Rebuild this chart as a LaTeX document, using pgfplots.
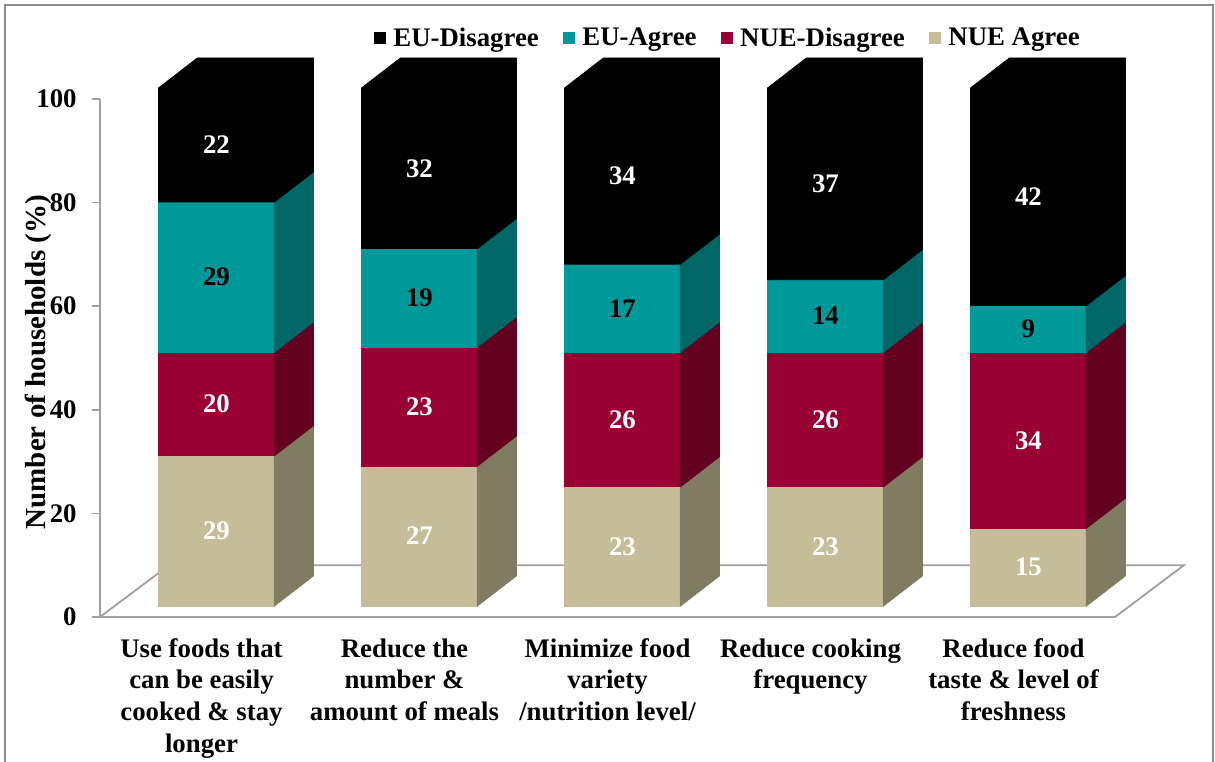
\documentclass[border=0pt]{standalone}
\usepackage{pgfplots}
\pgfplotsset{compat=1.18}
\usepackage{pgfplotstable}
\usepackage{fontspec}
\setmainfont{Liberation Serif}

\definecolor{eud}{HTML}{000000}
\definecolor{eua}{HTML}{009999}
\definecolor{euaS}{HTML}{006666}
\definecolor{nued}{HTML}{990033}
\definecolor{nuedS}{HTML}{640020}
\definecolor{nuea}{HTML}{C4BD97}
\definecolor{nueaS}{HTML}{807C61}
\definecolor{axgray}{HTML}{A0A0A0}
\definecolor{framegray}{HTML}{8C8C8C}

% NUE Agree (na), NUE-Disagree (nd), EU-Agree (ea), EU-Disagree (ed)
\pgfplotstableread{
x na nd ea ed
0 29 20 29 22
1 27 23 19 32
2 23 26 17 34
3 23 26 14 37
4 15 34 9 42
}\datatable

% 3-D geometry in axis units
\def\fx{-0.212}
\def\bw{0.571}
\def\ddx{0.192}
\def\ddy{5.8}
\def\fy{2.12}

\newcommand\seg[5]{%
  \pgfmathsetmacro\ylo{#1}%
  \pgfmathsetmacro\yhi{min(#1+#2,\fy+100)}%
  \pgfmathsetmacro\ylob{\ylo+\ddy}%
  \pgfmathsetmacro\yhib{\yhi+\ddy}%
  \pgfmathsetmacro\ymid{(\ylo+\yhi)/2}%
  \edef\temp{%
    \noexpand\addplot[forget plot, fill=#3, draw=#3, line width=0.4pt, line join=round] coordinates {(\xl,\ylo) (\xr,\ylo) (\xr,\yhi) (\xl,\yhi) (\xl,\ylo)};
    \noexpand\addplot[forget plot, fill=#4, draw=#4, line width=0.4pt, line join=round] coordinates {(\xr,\ylo) (\xbr,\ylob) (\xbr,\yhib) (\xr,\yhi) (\xr,\ylo)};
    \noexpand\node[lab, text=#5] at (axis cs:\xc,\ymid) {#2};
  }\temp
  \xdef\ytop{\yhi}%
}
% top (black) segment: front, top and side faces as one solid block
\newcommand\segtop[4]{%
  \pgfmathsetmacro\ylo{#1}%
  \pgfmathsetmacro\yhi{min(#1+#2,\fy+100)}%
  \pgfmathsetmacro\ylob{\ylo+\ddy}%
  \pgfmathsetmacro\yhib{\yhi+\ddy}%
  \pgfmathsetmacro\ymid{(\ylo+\yhi)/2}%
  \edef\temp{%
    \noexpand\addplot[forget plot, fill=#3, draw=#3, line width=0.4pt, line join=round] coordinates {(\xl,\ylo) (\xr,\ylo) (\xbr,\ylob) (\xbr,\yhib) (\xbl,\yhib) (\xl,\yhi) (\xl,\ylo)};
    \noexpand\node[lab, text=#4] at (axis cs:\xc,\ymid) {#2};
  }\temp
}

\tikzset{lab/.style={font=\fontsize{13.4}{16}\selectfont\bfseries, inner sep=0pt, anchor=center}}

\begin{document}
\begin{tikzpicture}
\useasboundingbox (0,0) rectangle (607.5pt,380.5pt);
\draw[framegray, line width=1pt] (2.5pt,-5pt) -- (2.5pt,378pt) -- (606.5pt,378pt) -- (606.5pt,-5pt);
\begin{axis}[
  at={(50pt,72pt)}, anchor=south west,
  scale only axis, width=507.5pt, height=259pt,
  xmin=-0.5, xmax=4.5, ymin=0, ymax=100,
  enlargelimits=false, clip=false,
  axis lines*=left,
  axis line style={axgray, line width=0.9pt},
  xtick={0,1,2,3,4},
  xticklabels={{Use foods that\\can be  easily\\cooked \& stay\\longer},
               {Reduce the\\number \&\\amount of meals},
               {Minimize food\\variety\\/nutrition level/},
               {Reduce cooking\\frequency},
               {Reduce food\\taste \& level of\\freshness}},
  xtick style={draw=none},
  xticklabel style={align=center, inner sep=0pt, yshift=-6.5pt, font=\fontsize{13.4}{15.85}\selectfont\bfseries},
  ytick={0,20,40,60,80,100},
  tick align=outside,
  major tick length=4pt,
  ytick style={axgray, line width=0.9pt},
  yticklabel style={font=\fontsize{13.4}{16}\selectfont\bfseries, inner sep=0pt, anchor=east, xshift=-7.5pt},
  /pgf/number format/assume math mode=true,
  every axis y label/.style={at={(axis description cs:-0.0611,0.492)}, rotate=90, anchor=center, font=\fontsize{14.5}{17}\selectfont\bfseries},
  ylabel={Number of households (\%)},
  legend columns=4,
  legend style={at={(axis description cs:0.270,1.117)}, anchor=west, draw=none, fill=none,
    font=\fontsize{13.4}{16}\selectfont\bfseries, inner sep=0pt, nodes={inner sep=0pt},
    /tikz/every odd column/.style={column sep=3.5pt},
    /tikz/every even column/.style={column sep=12.3pt}},
  legend image code/.code={\fill[#1] (0pt,-3pt) rectangle (6pt,3pt);},
]
\addlegendimage{fill=eud, draw=none}
\addlegendentry{EU-Disagree}
\addlegendimage{fill=eua, draw=none}
\addlegendentry{EU-Agree}
\addlegendimage{fill=nued, draw=none}
\addlegendentry{NUE-Disagree}
\addlegendimage{fill=nuea, draw=none}
\addlegendentry{NUE Agree}

% floor
\addplot[forget plot, fill=white, draw=axgray, line width=0.9pt] coordinates {(-0.5,0) (4.5,0) (4.84,10) (-0.16,10) (-0.5,0)};

\pgfplotsinvokeforeach{0,...,4}{%
  \pgfplotstablegetelem{#1}{na}\of\datatable\edef\va{\pgfplotsretval}%
  \pgfplotstablegetelem{#1}{nd}\of\datatable\edef\vb{\pgfplotsretval}%
  \pgfplotstablegetelem{#1}{ea}\of\datatable\edef\vc{\pgfplotsretval}%
  \pgfplotstablegetelem{#1}{ed}\of\datatable\edef\vd{\pgfplotsretval}%
  \pgfmathsetmacro\xl{#1+\fx}%
  \pgfmathsetmacro\xr{\xl+\bw}%
  \pgfmathsetmacro\xbl{\xl+\ddx}%
  \pgfmathsetmacro\xbr{\xr+\ddx}%
  \pgfmathsetmacro\xc{\xl+\bw/2}%
  \seg{\fy}{\va}{nuea}{nueaS}{white}%
  \seg{\ytop}{\vb}{nued}{nuedS}{white}%
  \seg{\ytop}{\vc}{eua}{euaS}{black}%
  \segtop{\ytop}{\vd}{eud}{white}%
}
\end{axis}
\end{tikzpicture}
\end{document}
